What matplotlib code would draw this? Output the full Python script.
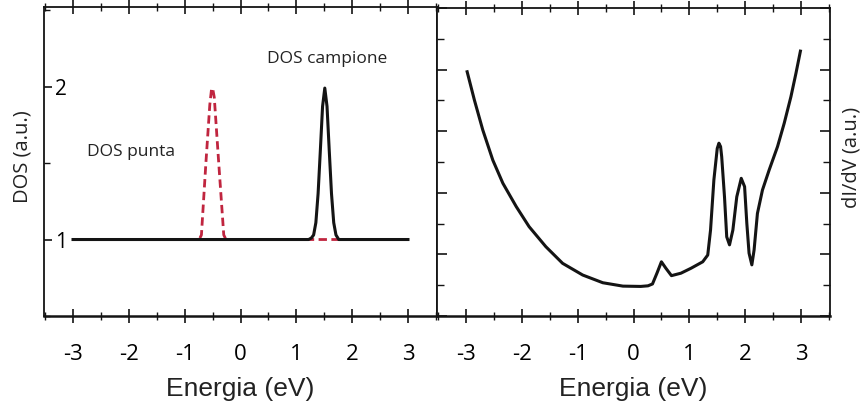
import matplotlib
matplotlib.use("Agg")
import matplotlib.pyplot as plt
from matplotlib.ticker import MultipleLocator

# left panel: model DOS (tip and sample)
dos_sample_x = [-3.0, 1.22, 1.27, 1.31, 1.35, 1.39, 1.43, 1.47, 1.51, 1.55,
                1.59, 1.63, 1.67, 1.71, 1.76, 3.0]
dos_sample_y = [1.0, 1.0, 1.01, 1.03, 1.11, 1.30, 1.58, 1.87, 1.99, 1.87,
                1.58, 1.30, 1.11, 1.03, 1.0, 1.0]
dos_tip_x = [-3.0, -0.74, -0.70, -0.62, -0.55, -0.52, -0.50, -0.47, -0.39,
             -0.30, -0.26, 3.0]
dos_tip_y = [1.0, 1.0, 1.03, 1.50, 1.88, 1.98, 1.99, 1.93, 1.50, 1.03, 1.0, 1.0]

# right panel: dI/dV spectrum
didv_x = [-2.98, -2.85, -2.70, -2.52, -2.34, -2.10, -1.87, -1.57, -1.27,
          -0.91, -0.55, -0.19, 0.13, 0.26, 0.34, 0.42, 0.50, 0.58, 0.68,
          0.85, 1.03, 1.24, 1.33, 1.38, 1.44, 1.50, 1.53, 1.56, 1.58, 1.63,
          1.67, 1.72, 1.78, 1.85, 1.93, 1.99, 2.03, 2.07, 2.12, 2.16, 2.22,
          2.31, 2.43, 2.58, 2.70, 2.82, 2.91, 2.99]
didv_y = [7.93, 7.01, 6.04, 5.06, 4.31, 3.55, 2.90, 2.25, 1.71,
          1.33, 1.08, 0.97, 0.96, 0.98, 1.04, 1.39, 1.76, 1.55, 1.31,
          1.39, 1.55, 1.76, 1.98, 2.79, 4.42, 5.44, 5.61, 5.50, 5.17, 3.87,
          2.57, 2.31, 2.79, 3.87, 4.47, 4.20, 3.01, 2.04, 1.66, 2.14, 3.33,
          4.09, 4.74, 5.50, 6.26, 7.12, 7.88, 8.60]

energy_ticks = [-3, -2, -1, 0, 1, 2, 3]

ink = "#141414"
red = "#c0253f"
tick_font = {"family": "Open Sans", "size": 16}
label_font = {"family": "Liberation Sans", "size": 19}
note_font = {"family": "Open Sans", "size": 12.5}
axis_font = {"family": "Open Sans", "size": 14.5}

fig = plt.figure(figsize=(8.61, 4.08), dpi=100)
ax_l = fig.add_axes([44 / 861, 92 / 408, 393 / 861, 309 / 408])
ax_r = fig.add_axes([437 / 861, 92 / 408, 393 / 861, 308 / 408])

for ax in (ax_l, ax_r):
    for sp in ax.spines.values():
        sp.set_linewidth(1.3)
        sp.set_color(ink)
    ax.spines["bottom"].set_linewidth(1.8)
    ax.set_xlim(-3.52, 3.52)
    ax.set_xticks(energy_ticks)
    ax.set_xticklabels([str(t) for t in energy_ticks], fontdict=tick_font)
    ax.xaxis.set_minor_locator(MultipleLocator(0.5))
    ax.tick_params(axis="x", which="major", direction="inout", length=10,
                   width=1.2, pad=15, color=ink, top=True)
    ax.tick_params(axis="x", which="minor", direction="inout", length=6,
                   width=1.0, color=ink, top=True)
    ax.set_xlabel("Energia (eV)", fontdict=label_font, color="#222222")
    ax.xaxis.set_label_coords(0.5, -0.198)

# left panel
ax_l.plot(dos_tip_x, dos_tip_y, color=red, lw=2.0, dashes=(3, 1.6), zorder=2)
ax_l.plot(dos_sample_x, dos_sample_y, color=ink, lw=2.2, zorder=3)
ax_l.set_ylim(0.5, 2.52)
ax_l.set_yticks([1, 2])
ax_l.set_yticklabels(["1", "2"], fontdict={"family": "Open Sans", "size": 15})
ax_l.yaxis.set_minor_locator(MultipleLocator(0.5))
ax_l.tick_params(axis="y", which="major", direction="in", length=6, width=1.2,
                 pad=-16.5, color=ink)
ax_l.tick_params(axis="y", which="minor", direction="in", length=4, width=1.0,
                 color=ink)
ax_l.set_ylabel("DOS (a.u.)", fontdict=axis_font, color="#222222")
ax_l.yaxis.set_label_coords(-0.03, 0.515)
ax_l.text(1.55, 2.18, "DOS campione", ha="center", va="center",
          fontdict=note_font, color="#222222")
ax_l.text(-1.96, 1.57, "DOS punta", ha="center", va="center",
          fontdict=note_font, color="#222222")

# right panel
ax_r.plot(didv_x, didv_y, color=ink, lw=2.2, solid_joinstyle="round")
ax_r.set_ylim(0, 10)
ax_r.yaxis.set_major_locator(MultipleLocator(2))
ax_r.yaxis.set_minor_locator(MultipleLocator(1))
ax_r.tick_params(axis="y", which="both", direction="in", left=True, right=True,
                 labelleft=False, labelright=False, color=ink)
ax_r.tick_params(axis="y", which="major", length=7, width=1.2)
ax_r.tick_params(axis="y", which="minor", length=5, width=1.0)
ax_r.yaxis.set_label_position("right")
ax_r.set_ylabel("dI/dV (a.u.)", fontdict=axis_font, color="#222222")
ax_r.yaxis.set_label_coords(1.028, 0.515)

fig.savefig("out.png", dpi=100)
